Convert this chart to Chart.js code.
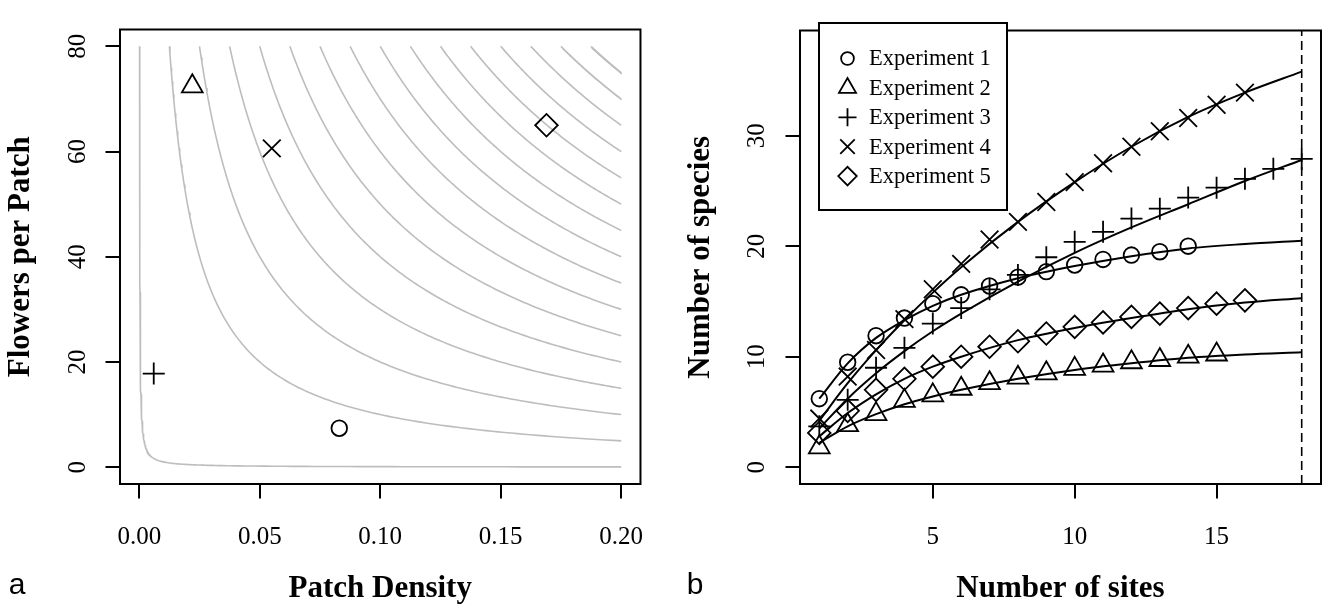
<!DOCTYPE html>
<html lang="en">
<head>
<meta charset="UTF-8">
<title>Patch density and species accumulation</title>
<script src="https://cdn.jsdelivr.net/npm/chart.js"></script>
<style>
  body { margin: 0; background: #fff; }
  .wrap { position: relative; width: 1337px; height: 612px; }
  canvas { position: absolute; top: 0; }
  #panelA { left: 0; }
  #panelB { left: 668px; }
</style>
</head>
<body>
<div class="wrap">
  <canvas id="panelA" width="668" height="612"></canvas>
  <canvas id="panelB" width="669" height="612"></canvas>
</div>
<script>
// ---- panel a data ----
const contourLevels = [0.01, 1, 2, 3, 4, 5, 6, 7, 8, 9, 10, 11, 12, 13, 14, 15];
const experiments = ['Experiment 1', 'Experiment 2', 'Experiment 3', 'Experiment 4', 'Experiment 5'];
const patchDensity = [0.083, 0.022, 0.006, 0.055, 0.169];
const flowersPerPatch = [7.4, 72.4, 17.8, 60.6, 65.0];
const xTicksA = [0, 0.05, 0.10, 0.15, 0.20];
const xTickLabelsA = ['0.00', '0.05', '0.10', '0.15', '0.20'];
const yTicksA = [0, 20, 40, 60, 80];

// ---- panel b data ----
const sites = [1, 2, 3, 4, 5, 6, 7, 8, 9, 10, 11, 12, 13, 14, 15, 16, 17, 18];
const species1 = [6.2, 9.5, 11.9, 13.5, 14.8, 15.6, 16.4, 17.2, 17.7, 18.3, 18.8, 19.2, 19.5, 20.0];
const species2 = [1.8, 3.8, 4.8, 6.0, 6.5, 7.1, 7.6, 8.1, 8.5, 8.9, 9.2, 9.5, 9.7, 10.0, 10.2];
const species3 = [3.7, 6.1, 9.0, 10.8, 13.0, 14.4, 16.1, 17.4, 19.0, 20.4, 21.3, 22.5, 23.4, 24.4, 25.3, 26.1, 27.0, 27.9];
const species4 = [4.4, 8.2, 10.6, 13.4, 16.1, 18.4, 20.6, 22.2, 24.0, 25.8, 27.5, 29.0, 30.4, 31.6, 32.8, 33.9];
const species5 = [3.1, 5.1, 7.0, 8.0, 9.1, 10.0, 10.9, 11.4, 12.1, 12.7, 13.1, 13.6, 13.9, 14.4, 14.8, 15.1];
// fitted curves
const fitSites = [1, 2, 3, 4, 5, 6, 8, 10, 12, 14, 16, 18];
const fit1 = [6.2, 9.4, 11.7, 13.3, 14.6, 15.6, 17.1, 18.2, 19.1, 19.8, 20.2, 20.5];
const fit2 = [2.2, 3.7, 4.8, 5.7, 6.4, 7.0, 8.0, 8.8, 9.4, 9.9, 10.2, 10.4];
const fit3 = [3.5, 6.2, 8.5, 10.5, 12.3, 13.9, 16.8, 19.4, 21.7, 23.8, 25.9, 27.8];
const fit4 = [4.2, 7.6, 10.6, 13.3, 15.8, 18.1, 22.2, 25.8, 29.0, 31.7, 33.9, 35.8];
const fit5 = [2.8, 4.9, 6.6, 8.0, 9.1, 10.0, 11.5, 12.6, 13.5, 14.3, 14.9, 15.3];
const totalSites = 18;
const xTicksB = [5, 10, 15];
const yTicksB = [0, 10, 20, 30];

const speciesAll = [species1, species2, species3, species4, species5];
const fitsAll = [fit1, fit2, fit3, fit4, fit5];

// marker look, R style open symbols
const markers = [
  { style: 'circle', r: 7.8 },
  { style: 'triangle', r: 12 },
  { style: 'cross', r: 11 },
  { style: 'crossRot', r: 12.5 },
  { style: 'rectRot', r: 11.3 }
];

const SERIF = '"Liberation Serif", "Times New Roman", serif';
const SANS = '"Liberation Sans", Arial, sans-serif';

function fixTicks(values, labels) {
  return {
    afterBuildTicks: s => { s.ticks = values.map(v => ({ value: v })); },
    label: v => labels ? labels[values.indexOf(v)] : String(v)
  };
}

function axis(opts) {
  const t = fixTicks(opts.ticks, opts.labels);
  const vertical = opts.pos === 'left';
  return {
    type: 'linear',
    position: opts.pos,
    min: opts.min,
    max: opts.max,
    afterBuildTicks: t.afterBuildTicks,
    afterFit: s => { if (vertical) s.width = opts.size; else s.height = opts.size; },
    border: { display: false },
    grid: { drawOnChartArea: false, drawTicks: true, tickLength: 14.5, color: '#000', lineWidth: 2 },
    ticks: {
      autoSkip: false,
      color: '#000',
      font: { family: SERIF, size: 25 },
      padding: opts.pad,
      minRotation: vertical ? 90 : 0,
      maxRotation: vertical ? 90 : 0,
      crossAlign: vertical ? 'center' : 'near',
      callback: t.label
    },
    title: {
      display: true,
      text: opts.title,
      color: '#000',
      font: { family: SERIF, size: 31, weight: 'bold' },
      padding: opts.titlePad
    }
  };
}

// frame around plot region + panel letter
function framePlugin(letter, letterX) {
  return {
    id: 'frame' + letter,
    afterDraw(chart) {
      const { ctx, chartArea: a } = chart;
      ctx.save();
      ctx.strokeStyle = '#000';
      ctx.lineWidth = 2;
      ctx.strokeRect(a.left, a.top, a.right - a.left, a.bottom - a.top);
      ctx.fillStyle = '#000';
      ctx.font = '30px ' + SANS;
      ctx.textAlign = 'center';
      ctx.textBaseline = 'middle';
      ctx.fillText(letter, letterX, 586);
      ctx.restore();
    }
  };
}

// ---- panel a ----
const contourSets = contourLevels.map(c => {
  const pts = [];
  const x0 = c / 80, x1 = 0.2, n = 160;
  for (let i = 0; i <= n; i++) {
    const x = x0 * Math.pow(x1 / x0, i / n);
    pts.push({ x: x, y: c / x });
  }
  return {
    data: pts, showLine: true, pointRadius: 0, borderColor: '#bdbdbd',
    borderWidth: 1.6, tension: 0, order: 2
  };
});

const pointSetsA = experiments.map((name, i) => ({
  label: name,
  data: [{ x: patchDensity[i], y: flowersPerPatch[i] }],
  pointStyle: markers[i].style,
  pointRadius: markers[i].r,
  pointHoverRadius: markers[i].r,
  pointBorderWidth: 1.8,
  pointBorderColor: '#000',
  pointBackgroundColor: 'rgba(0,0,0,0)',
  order: 1
}));

new Chart(document.getElementById('panelA'), {
  type: 'scatter',
  data: { datasets: contourSets.concat(pointSetsA) },
  options: {
    responsive: false,
    animation: false,
    events: [],
    layout: { padding: { top: 5, right: 25, bottom: 0, left: 0 } },
    plugins: { legend: { display: false }, tooltip: { enabled: false } },
    scales: {
      x: axis({ pos: 'bottom', min: -0.008, max: 0.208, ticks: xTicksA, labels: xTickLabelsA,
                size: 128, pad: 24, title: 'Patch Density', titlePad: { top: 0, bottom: 4.5 } }),
      y: axis({ pos: 'left', min: -3.2, max: 83.2, ticks: yTicksA,
                size: 120, pad: 14.5, title: 'Flowers per Patch', titlePad: { top: 2.5, bottom: 0 } })
    }
  },
  plugins: [framePlugin('a', 17)]
});

// ---- panel b ----
const legendPlugin = {
  id: 'boxLegend',
  afterDraw(chart) {
    const { ctx } = chart;
    const left = 819 - 668, top = 23, w = 188, h = 187;
    ctx.save();
    ctx.fillStyle = '#fff';
    ctx.fillRect(left, top, w, h);
    ctx.strokeStyle = '#000';
    ctx.lineWidth = 2;
    ctx.strokeRect(left, top, w, h);
    ctx.font = '22.5px ' + SERIF;
    ctx.textBaseline = 'middle';
    ctx.textAlign = 'left';
    experiments.forEach((name, i) => {
      const y = 58.5 + i * 29.4;
      ctx.strokeStyle = '#000';
      ctx.fillStyle = 'rgba(0,0,0,0)';
      ctx.lineWidth = 1.8;
      const m = markers[i];
      Chart.helpers.drawPoint(ctx, { pointStyle: m.style, radius: m.r * 0.82, rotation: 0, borderWidth: 1.8 }, left + 28.5, y);
      ctx.fillStyle = '#000';
      ctx.fillText(name, left + 50, y + 1);
    });
    ctx.restore();
  }
};

const lineSetsB = fitsAll.map(f => ({
  data: fitSites.map((s, j) => ({ x: s, y: f[j] })),
  showLine: true, pointRadius: 0, borderColor: '#000', borderWidth: 2,
  cubicInterpolationMode: 'monotone', order: 2
}));

const pointSetsB = experiments.map((name, i) => ({
  label: name,
  data: speciesAll[i].map((v, j) => ({ x: sites[j], y: v })),
  showLine: false,
  pointStyle: markers[i].style,
  pointRadius: markers[i].r,
  pointHoverRadius: markers[i].r,
  pointBorderWidth: 1.8,
  pointBorderColor: '#000',
  pointBackgroundColor: 'rgba(0,0,0,0)',
  order: 1
}));

const yMinB = -1.52, yMaxB = 39.52;
const dashedSet = {
  data: [{ x: totalSites, y: yMinB }, { x: totalSites, y: yMaxB }],
  showLine: true, pointRadius: 0, borderColor: '#000', borderWidth: 1.6,
  borderDash: [9, 5], order: 3
};

new Chart(document.getElementById('panelB'), {
  type: 'scatter',
  data: { datasets: [dashedSet].concat(lineSetsB, pointSetsB) },
  options: {
    responsive: false,
    animation: false,
    events: [],
    layout: { padding: { top: 5, right: 16, bottom: 0, left: 0 } },
    plugins: { legend: { display: false }, tooltip: { enabled: false } },
    scales: {
      x: axis({ pos: 'bottom', min: 0.32, max: 18.68, ticks: xTicksB,
                size: 128, pad: 24, title: 'Number of sites', titlePad: { top: 0, bottom: 4.5 } }),
      y: axis({ pos: 'left', min: yMinB, max: yMaxB, ticks: yTicksB,
                size: 132, pad: 15.5, title: 'Number of species', titlePad: { top: 14.5, bottom: 0 } })
    }
  },
  plugins: [framePlugin('b', 27), legendPlugin]
});
</script>
</body>
</html>
